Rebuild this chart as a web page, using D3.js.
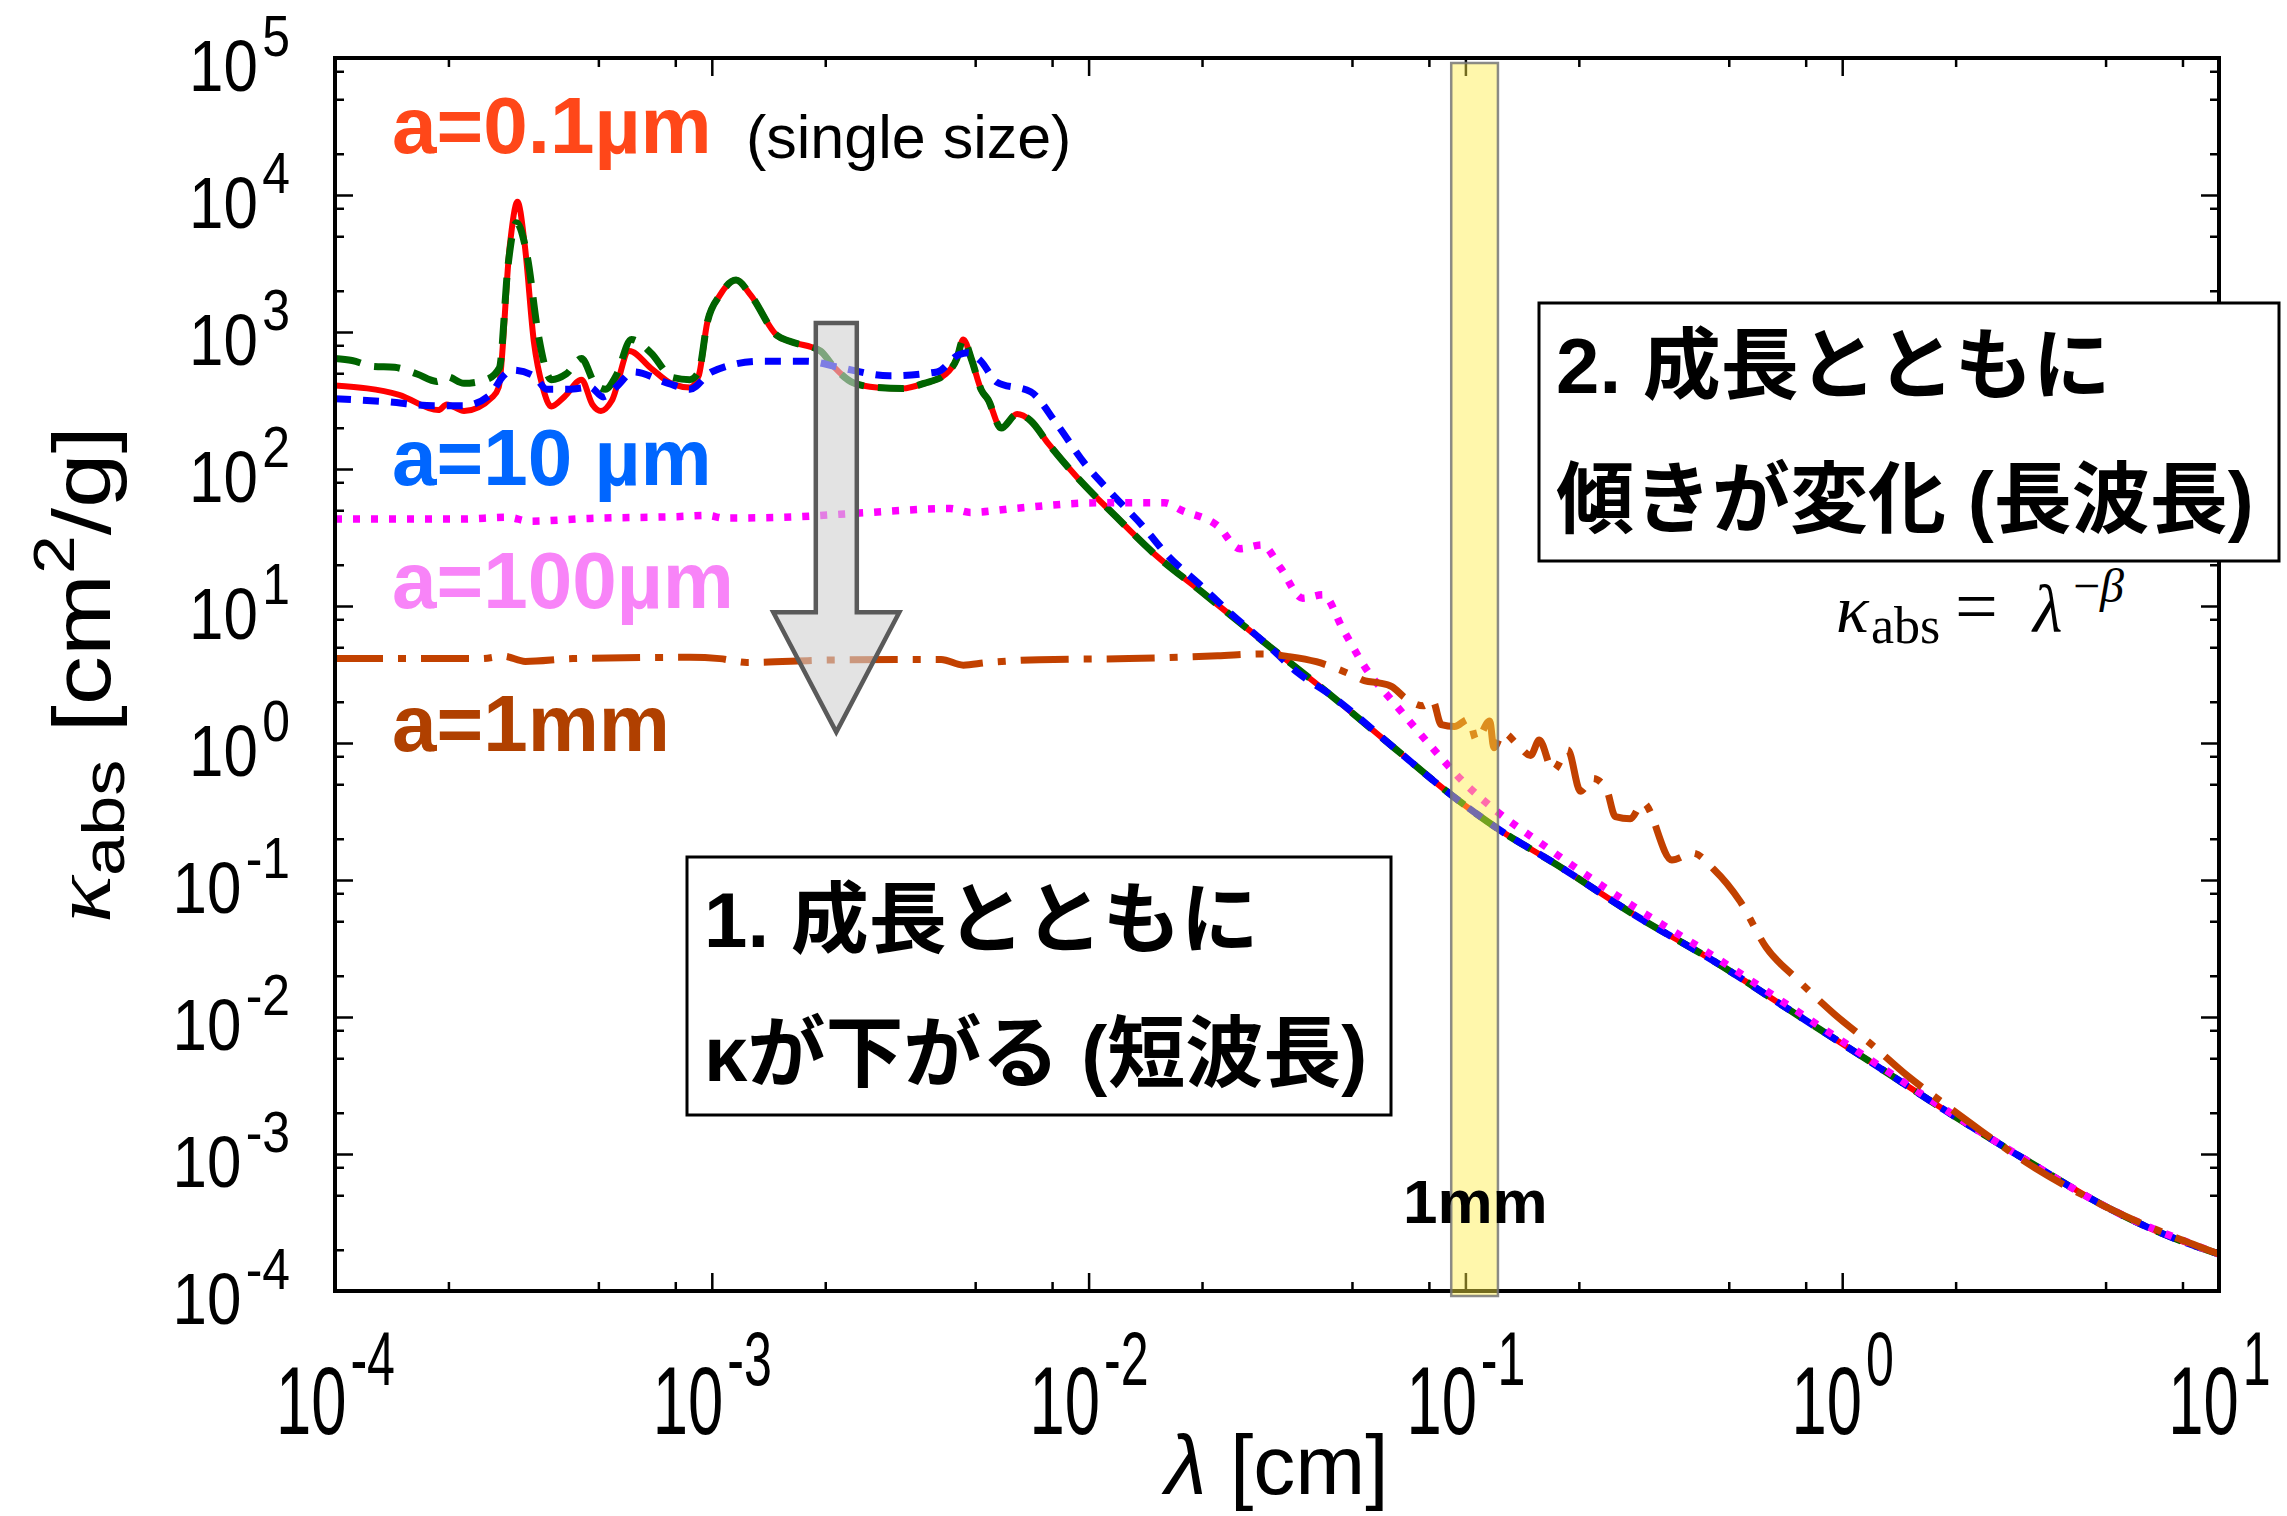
<!DOCTYPE html>
<html>
<head>
<meta charset="utf-8">
<script src="https://cdn.jsdelivr.net/npm/d3@7"></script>
<style>
  body { margin: 0; background: #fff; }
  svg { display: block; }
</style>
</head>
<body>
<div id="chart"></div>
<script>
// wavelength [cm] / kappa_abs [cm^2/g]
const lamRed = [1.0e-4, 1.48e-4, 1.88e-4, 1.98e-4, 2.20e-4, 2.62e-4, 2.72e-4, 2.91e-4, 3.05e-4, 3.19e-4, 3.37e-4, 3.56e-4, 3.75e-4, 4.06e-4, 4.51e-4, 4.82e-4, 5.08e-4, 5.43e-4, 6.04e-4, 6.89e-4, 7.87e-4, 8.75e-4, 9.23e-4, 9.73e-4, 1.05e-3, 1.16e-3, 1.27e-3, 1.49e-3, 1.61e-3, 1.94e-3, 2.10e-3, 2.39e-3, 2.74e-3, 3.21e-3, 3.66e-3, 4.18e-3, 4.47e-3, 4.65e-3, 4.90e-3, 5.19e-3, 5.41e-3, 5.86e-3, 6.46e-3, 7.02e-3, 7.82e-3, 9.46e-3, 1.18e-2, 1.50e-2, 1.98e-2, 2.89e-2, 4.36e-2, 6.56e-2, 9.23e-2, 0.121, 0.175, 0.282, 0.456, 0.738, 1.19, 1.92, 3.10, 5.01, 6.90, 10];
const kapRed = [407, 348, 269, 296, 265, 336, 396, 4270, 8930, 4270, 855, 394, 286, 336, 449, 296, 265, 316, 728, 546, 416, 394, 479, 1178, 1849, 2393, 1849, 942, 855, 728, 562, 422, 394, 387, 422, 494, 640, 883, 619, 378, 321, 199, 252, 225, 153, 83.2, 45.2, 23.8, 12.9, 5.58, 2.27, 0.893, 0.412, 0.240, 0.129, 0.0553, 0.0256, 0.0109, 4.69e-3, 2.00e-3, 8.91e-4, 4.12e-4, 2.70e-4, 1.86e-4];

const lamGreen = [1.0e-4, 1.11e-4, 1.26e-4, 1.44e-4, 1.65e-4, 1.86e-4, 1.98e-4, 2.20e-4, 2.52e-4, 2.73e-4, 2.88e-4, 3.03e-4, 3.24e-4, 3.46e-4, 3.75e-4, 4.11e-4, 4.51e-4, 4.89e-4, 5.22e-4, 5.57e-4, 6.12e-4, 6.89e-4, 7.87e-4, 8.75e-4, 9.23e-4, 9.73e-4, 1.05e-3, 1.16e-3, 1.27e-3, 1.49e-3, 1.61e-3, 1.94e-3, 2.10e-3, 2.39e-3, 2.74e-3, 3.21e-3, 3.66e-3, 4.18e-3, 4.47e-3, 4.65e-3, 4.90e-3, 5.19e-3, 5.41e-3, 5.86e-3, 6.46e-3, 7.02e-3, 7.82e-3, 9.46e-3, 1.18e-2, 1.50e-2, 1.98e-2, 2.89e-2, 4.36e-2, 6.56e-2, 9.23e-2, 0.121, 0.175, 0.282, 0.456, 0.738, 1.19, 1.92, 3.10, 5.01, 6.90, 10];
const kapGreen = [640, 619, 562, 552, 494, 436, 472, 422, 449, 546, 3090, 6280, 3520, 973, 449, 494, 640, 422, 382, 479, 883, 705, 465, 449, 511, 1178, 1849, 2393, 1849, 942, 855, 728, 562, 422, 394, 387, 422, 494, 640, 883, 619, 378, 321, 199, 252, 225, 153, 83.2, 45.2, 23.8, 12.9, 5.58, 2.27, 0.893, 0.412, 0.240, 0.129, 0.0553, 0.0256, 0.0109, 4.69e-3, 2.00e-3, 8.91e-4, 4.12e-4, 2.70e-4, 1.86e-4];

const lamBlue = [1.0e-4, 1.37e-4, 1.83e-4, 2.20e-4, 2.58e-4, 2.80e-4, 2.95e-4, 3.37e-4, 3.65e-4, 4.17e-4, 4.75e-4, 5.15e-4, 5.57e-4, 6.19e-4, 7.66e-4, 8.75e-4, 9.98e-4, 1.34e-3, 1.79e-3, 2.21e-3, 2.96e-3, 3.96e-3, 4.52e-3, 4.79e-3, 5.16e-3, 5.71e-3, 7.02e-3, 8.24e-3, 9.73e-3, 1.15e-2, 1.39e-2, 1.63e-2, 1.98e-2, 2.39e-2, 2.97e-2, 3.60e-2, 4.36e-2, 6.56e-2, 9.23e-2, 0.121, 0.175, 0.282, 0.456, 0.738, 1.19, 1.92, 3.10, 5.01, 6.90, 10];
const kapBlue = [326, 310, 290, 290, 348, 479, 528, 479, 382, 382, 396, 336, 396, 511, 422, 382, 511, 611, 611, 546, 479, 511, 682, 705, 619, 430, 366, 212, 111, 66.5, 38.5, 23.0, 14.2, 8.77, 5.25, 3.24, 2.27, 0.893, 0.412, 0.240, 0.129, 0.0553, 0.0256, 0.0109, 4.69e-3, 2.00e-3, 8.91e-4, 4.12e-4, 2.70e-4, 1.86e-4];

const lamMagenta = [1.0e-4, 2.15e-4, 2.88e-4, 3.28e-4, 4.75e-4, 8.07e-4, 9.73e-4, 1.08e-3, 1.70e-3, 2.53e-3, 4.29e-3, 4.85e-3, 6.28e-3, 1.05e-2, 1.59e-2, 1.77e-2, 2.20e-2, 2.52e-2, 2.89e-2, 3.23e-2, 3.70e-2, 4.19e-2, 4.73e-2, 5.42e-2, 6.56e-2, 8.17e-2, 9.89e-2, 0.119, 0.161, 0.282, 0.456, 0.738, 1.19, 1.92, 3.10, 5.01, 10];
const kapMagenta = [43.1, 43.1, 44.4, 41.6, 43.6, 44.9, 45.8, 43.8, 44.9, 47.9, 51.4, 48.2, 51.4, 56.6, 56.6, 49.8, 38.5, 26.2, 27.9, 19.0, 11.4, 12.1, 6.78, 3.56, 1.87, 0.923, 0.518, 0.330, 0.180, 0.0630, 0.0278, 0.0116, 4.85e-3, 2.03e-3, 8.91e-4, 4.12e-4, 1.86e-4];

const lamBrown = [1.0e-4, 2.45e-4, 2.80e-4, 3.20e-4, 4.28e-4, 8.75e-4, 1.05e-3, 1.24e-3, 2.04e-3, 4.06e-3, 4.65e-3, 5.33e-3, 7.40e-3, 1.28e-2, 2.20e-2, 2.89e-2, 3.41e-2, 4.02e-2, 4.60e-2, 5.14e-2, 5.42e-2, 5.89e-2, 6.38e-2, 6.93e-2, 7.73e-2, 8.17e-2, 8.63e-2, 9.35e-2, 0.102, 0.107, 0.116, 0.119, 0.126, 0.137, 0.149, 0.157, 0.171, 0.187, 0.202, 0.218, 0.237, 0.250, 0.274, 0.296, 0.353, 0.402, 0.456, 0.536, 0.628, 0.760, 0.953, 1.19, 1.49, 1.86, 2.25, 3.10, 5.01, 10];
const kapBrown = [4.13, 4.13, 4.30, 3.94, 4.13, 4.22, 4.13, 3.87, 4.03, 4.07, 3.70, 3.85, 4.06, 4.13, 4.33, 4.47, 4.27, 3.92, 3.45, 3.03, 2.84, 2.75, 2.58, 2.13, 1.87, 2.07, 1.36, 1.32, 1.49, 1.05, 1.45, 0.923, 1.19, 0.984, 0.811, 1.05, 0.628, 0.891, 0.445, 0.552, 0.455, 0.290, 0.280, 0.366, 0.140, 0.157, 0.120, 0.0698, 0.0323, 0.0188, 0.0105, 6.38e-3, 3.72e-3, 2.34e-3, 1.59e-3, 8.57e-4, 4.12e-4, 1.86e-4];

const xTicks = [1e-4, 1e-3, 1e-2, 1e-1, 1, 10];
const xTickExp = ["-4", "-3", "-2", "-1", "0", "1"];
const yTicks = [1e-4, 1e-3, 1e-2, 1e-1, 1, 10, 100, 1e3, 1e4, 1e5];
const yTickExp = ["-4", "-3", "-2", "-1", "0", "1", "2", "3", "4", "5"];
const minorMant = [2, 5, 8];

const sizeLabels = ["a=0.1\u00b5m", "a=10 \u00b5m", "a=100\u00b5m", "a=1mm"];
const bandLam = [0.0917, 0.122];

var W = 2287, H = 1516;

var svg = d3.select("#chart").append("svg")
  .attr("width", W).attr("height", H)
  .style("font-family", "'Liberation Sans', Arial, Helvetica, sans-serif");

var x = d3.scaleLog().domain([1e-4, 10]).range([335, 2219]);
var y = d3.scaleLog().domain([1e-4, 1e5]).range([1291, 58]);

var minorX = [], minorY = [];
xTicks.slice(0, -1).forEach(t => minorMant.forEach(m => minorX.push(m * t)));
yTicks.slice(0, -1).forEach(t => minorMant.forEach(m => minorY.push(m * t)));

// axes, ticks pointing inward on all four sides
var axisDefs = [
  [d3.axisBottom, x, "translate(0," + y(1e-4) + ")", "bottom"],
  [d3.axisTop, x, "translate(0," + y(1e5) + ")", "top"],
  [d3.axisLeft, y, "translate(" + x(1e-4) + ",0)", "left"],
  [d3.axisRight, y, "translate(" + x(10) + ",0)", "right"]
];
axisDefs.forEach(function (a) {
  var isX = a[1] === x;
  [[isX ? xTicks : yTicks, 18], [isX ? minorX : minorY, 9]].forEach(function (set) {
    var g = svg.append("g")
      .attr("class", "axis " + a[3])
      .attr("transform", a[2])
      .call(a[0](a[1]).tickValues(set[0]).tickSizeInner(-set[1]).tickSizeOuter(0).tickFormat(""));
    g.select(".domain").remove();
    g.selectAll(".tick line").attr("stroke", "#000").attr("stroke-width", 2.5);
  });
});

// tick labels
svg.selectAll(".axis.bottom .tick").filter(d => xTicks.includes(d)).each(function (d) {
  var i = xTicks.indexOf(d);
  var t = d3.select(this).append("text")
    .attr("transform", "translate(0,143) scale(0.66,1)")
    .attr("text-anchor", "middle")
    .attr("fill", "#000")
    .style("font-size", "96px");
  t.append("tspan").text("10");
  t.append("tspan").attr("dy", -49).attr("dx", 6).style("font-size", "76px").text(xTickExp[i]);
});
svg.selectAll(".axis.left .tick").filter(d => yTicks.includes(d)).each(function (d) {
  var i = yTicks.indexOf(d);
  var t = d3.select(this).append("text")
    .attr("transform", "translate(-45,32) scale(0.86,1)")
    .attr("text-anchor", "end")
    .attr("fill", "#000")
    .style("font-size", "72px");
  t.append("tspan").text("10");
  t.append("tspan").attr("dy", -35).attr("dx", 5).style("font-size", "58px").text(yTickExp[i]);
});

// curves
svg.append("clipPath").attr("id", "plotclip").append("rect")
  .attr("x", x(1e-4)).attr("y", y(1e5))
  .attr("width", x(10) - x(1e-4)).attr("height", y(1e-4) - y(1e5));

var series = [
  { lam: lamRed, kap: kapRed, color: "#ff0000", dash: null, w: 6 },
  { lam: lamGreen, kap: kapGreen, color: "#006400", dash: "26,14", w: 7 },
  { lam: lamBlue, kap: kapBlue, color: "#0000ff", dash: "16,12", w: 7 },
  { lam: lamMagenta, kap: kapMagenta, color: "#ff00ff", dash: "7,11", w: 7.5 },
  { lam: lamBrown, kap: kapBrown, color: "#c24100", dash: "48,15,8,15", w: 7 }
];

var line = d3.line()
  .x(d => x(d[0]))
  .y(d => y(d[1]))
  .curve(d3.curveMonotoneX);

var curves = svg.append("g").attr("clip-path", "url(#plotclip)");
series.forEach(function (s) {
  curves.append("path")
    .datum(s.lam.map((l, i) => [l, s.kap[i]]))
    .attr("d", line)
    .attr("fill", "none")
    .attr("stroke", s.color)
    .attr("stroke-width", s.w)
    .attr("stroke-dasharray", s.dash)
    .attr("stroke-linejoin", "round");
});

// frame
svg.append("rect")
  .attr("x", x(1e-4)).attr("y", y(1e5))
  .attr("width", x(10) - x(1e-4)).attr("height", y(1e-4) - y(1e5))
  .attr("fill", "none").attr("stroke", "#000").attr("stroke-width", 4);

// 1 mm band
svg.append("rect")
  .attr("x", x(bandLam[0])).attr("y", y(1e5) + 5)
  .attr("width", x(bandLam[1]) - x(bandLam[0]))
  .attr("height", y(1e-4) - y(1e5))
  .attr("fill", "#ffee44").attr("fill-opacity", 0.45)
  .attr("stroke", "#777").attr("stroke-width", 2.5).attr("stroke-opacity", 0.85);

svg.append("text")
  .attr("x", 1403).attr("y", 1223)
  .style("font-size", "62px").style("font-weight", "bold")
  .text("1mm");

// downward arrow
var ax = x(2.14e-3), aTop = y(1164), aHead = y(9.0), aTip = y(1.2);
svg.append("path")
  .attr("d", "M" + (ax - 20.5) + "," + aTop + "H" + (ax + 20.5) + "V" + aHead +
    "H" + (ax + 63) + "L" + ax + "," + aTip + "L" + (ax - 63) + "," + aHead +
    "H" + (ax - 20.5) + "Z")
  .attr("fill", "#d0d0d0").attr("fill-opacity", 0.6)
  .attr("stroke", "#5a5a5a").attr("stroke-width", 4.5).attr("stroke-linejoin", "miter");

// size labels
var labelColors = ["#ff4719", "#0066ff", "#f884f8", "#b04000"];
var labelY = [153, 485, 608, 751];
sizeLabels.forEach(function (s, i) {
  svg.append("text")
    .attr("x", 392).attr("y", labelY[i])
    .attr("fill", labelColors[i])
    .style("font-size", "80px").style("font-weight", "bold")
    .text(s);
});
svg.append("text")
  .attr("x", 746).attr("y", 158)
  .style("font-size", "61px")
  .text("(single size)");

// formula
var f = svg.append("text")
  .attr("x", 1836).attr("y", 632)
  .style("font-family", "'Liberation Serif', 'DejaVu Serif', serif")
  .style("font-size", "68px");
f.append("tspan").style("font-style", "italic").text("\u03ba");
f.append("tspan").attr("x", 1871).attr("dy", 11).style("font-size", "52px").text("abs");
f.append("tspan").attr("x", 1955).attr("dy", -11).style("font-size", "76px").text("=");
f.append("tspan").attr("x", 2033).style("font-style", "italic").text("\u03bb");
f.append("tspan").attr("x", 2073).attr("dy", -30).style("font-size", "48px").text("\u2212");
f.append("tspan").style("font-size", "48px").style("font-style", "italic").text("\u03b2");

// annotation boxes
var boxes = [
  { x: 687, y: 857, w: 704, h: 258, lines: ["1. \u6210\u9577\u3068\u3068\u3082\u306b", "\u03ba\u304c\u4e0b\u304c\u308b (\u77ed\u6ce2\u9577)"] },
  { x: 1539, y: 303, w: 740, h: 258, lines: ["2. \u6210\u9577\u3068\u3068\u3082\u306b", "\u50be\u304d\u304c\u5909\u5316 (\u9577\u6ce2\u9577)"] }
];
boxes.forEach(function (b) {
  svg.append("rect")
    .attr("x", b.x).attr("y", b.y).attr("width", b.w).attr("height", b.h)
    .attr("fill", "#fff").attr("stroke", "#000").attr("stroke-width", 3);
  b.lines.forEach(function (t, i) {
    svg.append("text")
      .attr("x", b.x + 17).attr("y", b.y + 90 + i * 134)
      .style("font-family", "'Liberation Sans', 'Noto Sans CJK JP', sans-serif")
      .style("font-size", "78px").style("font-weight", "bold")
      .text(t);
  });
});

// axis titles
var xt = svg.append("text")
  .attr("x", (x(1e-4) + x(10)) / 2).attr("y", 1494)
  .attr("text-anchor", "middle")
  .style("font-size", "84px");
xt.append("tspan").style("font-style", "italic").text("\u03bb");
xt.append("tspan").text(" [cm]");

var yt = svg.append("text")
  .attr("transform", "translate(110," + (y(1e-4) + y(1e5)) / 2 + ") rotate(-90) scale(1.2,1)")
  .attr("text-anchor", "middle")
  .style("font-size", "82px");
yt.append("tspan").style("font-family", "'Liberation Serif', serif").style("font-style", "italic").text("\u03ba");
yt.append("tspan").attr("dy", 14).style("font-size", "60px").text("abs");
yt.append("tspan").attr("dy", -14).text(" [cm");
yt.append("tspan").attr("dy", -36).style("font-size", "58px").text("2");
yt.append("tspan").attr("dy", 36).text("/g]");
</script>
</body>
</html>
